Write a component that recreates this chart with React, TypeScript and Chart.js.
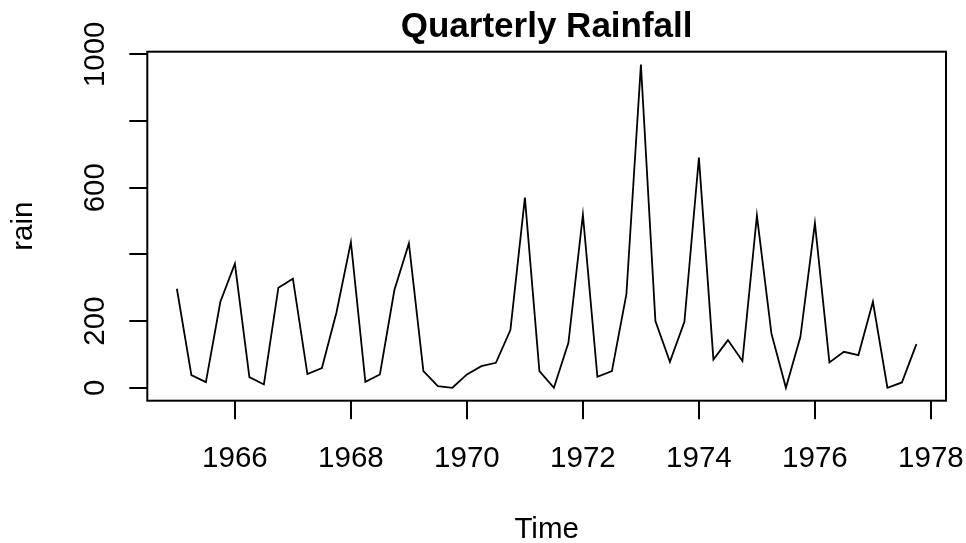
import React, { useEffect, useRef } from "react";
import { Chart, registerables } from "chart.js";

Chart.register(...registerables);

// Quarterly series starting 1965 Q1
const startYear = 1965;
const frequency = 4;
const rain = [
  297, 38, 17, 258,
  372, 32, 10, 300,
  327, 41, 59, 225,
  437, 18, 40, 293,
  433, 50, 5, 0,
  40, 65, 75, 173,
  570, 50, 0, 135,
  519, 33, 50, 281,
  969, 200, 78, 198,
  690, 85, 143, 80,
  516, 163, 0, 153,
  494, 76, 108, 98,
  258, 0, 16, 131,
];

const xTicks = [1966, 1968, 1970, 1972, 1974, 1976, 1978];
const xTickLabels = ["1966", "1968", "1970", "1972", "1974", "1976", "1978"];
const yTicks = [0, 200, 400, 600, 800, 1000];
const yTickLabels = ["0", "200", "", "600", "", "1000"];

const titleText = "Quarterly Rainfall";
const xTitle = "Time";
const yTitle = "rain";

const xMin = 1964.49;
const xMax = 1978.26;
const yMin = -38.76;
const yMax = 1007.76;

const FONT = '"Liberation Sans", Arial, Helvetica, sans-serif';

export default function App() {
  const ref = useRef<HTMLCanvasElement | null>(null);

  useEffect(() => {
    document.body.style.margin = "0";
    const canvas = ref.current;
    if (!canvas) return;

    const points = rain.map((v, i) => ({ x: startYear + i / frequency, y: v }));

    const rPlotText = {
      id: "rPlotText",
      afterDraw(chart: any) {
        const ctx = chart.ctx as CanvasRenderingContext2D;
        const area = chart.chartArea;
        const xs = chart.scales.x;
        const ys = chart.scales.y;
        ctx.save();
        // box
        ctx.strokeStyle = "#000";
        ctx.lineWidth = 2;
        ctx.strokeRect(area.left, area.top, area.right - area.left, area.bottom - area.top);

        ctx.fillStyle = "#000";
        const cx = (area.left + area.right) / 2;
        const cy = (area.top + area.bottom) / 2;

        // title
        ctx.font = `bold 35px ${FONT}`;
        ctx.textAlign = "center";
        ctx.textBaseline = "alphabetic";
        ctx.fillText(titleText, cx, 36.7);

        // x tick labels
        ctx.font = `29.5px ${FONT}`;
        xs.ticks.forEach((t: any) => {
          const px = xs.getPixelForValue(t.value);
          ctx.fillText(String(t.label), px, 466.7);
        });

        // x title
        ctx.fillText(xTitle, cx, 538.3);

        // y tick labels rotated
        ys.ticks.forEach((t: any) => {
          const label = String(t.label ?? "");
          if (!label) return;
          const py = ys.getPixelForValue(t.value);
          ctx.save();
          ctx.translate(104, py);
          ctx.rotate(-Math.PI / 2);
          ctx.textAlign = "center";
          ctx.fillText(label, 0, 0);
          ctx.restore();
        });

        // y title
        ctx.save();
        ctx.translate(31.7, cy);
        ctx.rotate(-Math.PI / 2);
        ctx.textAlign = "center";
        ctx.fillText(yTitle, 0, 0);
        ctx.restore();

        ctx.restore();
      },
    };

    const chart = new Chart(canvas, {
      type: "line",
      data: {
        datasets: [
          {
            label: "rain",
            data: points,
            borderColor: "#000",
            borderWidth: 1.8,
            pointRadius: 0,
            tension: 0,
            fill: false,
          },
        ],
      },
      options: {
        animation: false,
        responsive: false,
        devicePixelRatio: 1,
        layout: { padding: { left: 129.3, top: 51.7, right: 20, bottom: 123.7 } },
        plugins: {
          legend: { display: false },
          tooltip: { enabled: false },
          title: { display: false },
        },
        scales: {
          x: {
            type: "linear",
            min: xMin,
            max: xMax,
            afterBuildTicks: (scale: any) => {
              scale.ticks = xTicks.map((v) => ({ value: v }));
            },
            ticks: {
              display: false,
              callback: (v: any) => {
                const i = xTicks.indexOf(Number(v));
                return i >= 0 ? xTickLabels[i] : "";
              },
            },
            grid: {
              display: true,
              drawOnChartArea: false,
              drawTicks: true,
              tickLength: 18.6,
              color: "#000",
              lineWidth: 2,
            },
            border: { display: false },
          },
          y: {
            type: "linear",
            min: yMin,
            max: yMax,
            afterBuildTicks: (scale: any) => {
              scale.ticks = yTicks.map((v) => ({ value: v }));
            },
            ticks: {
              display: false,
              callback: (v: any) => {
                const i = yTicks.indexOf(Number(v));
                return i >= 0 ? yTickLabels[i] : "";
              },
            },
            grid: {
              display: true,
              drawOnChartArea: false,
              drawTicks: true,
              tickLength: 18,
              color: "#000",
              lineWidth: 2,
            },
            border: { display: false },
          },
        },
      },
      plugins: [rPlotText],
    });

    return () => chart.destroy();
  }, []);

  return (
    <div style={{ position: "absolute", left: 0, top: 0, width: 966, height: 543, background: "#fff" }}>
      <canvas ref={ref} width={966} height={543} style={{ display: "block" }} />
    </div>
  );
}
